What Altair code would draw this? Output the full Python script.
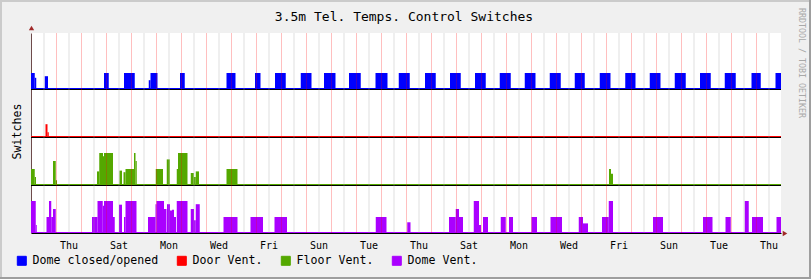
import altair as alt
import pandas as pd

# ---------------------------------------------------------------- data
SERIES = ["Dome closed/opened", "Door Vent.", "Floor Vent.", "Dome Vent."]
COLORS = ["#0000FF", "#FF0000", "#54A800", "#AA00FF"]
BASELINE = [9, 6, 3, 0]          # band offset (switch units) of each series

# x axis: days since start of the 30-day window
TICK_POS = [1.5, 3.5, 5.5, 7.5, 9.5, 11.5, 13.5, 15.5, 17.5, 19.5, 21.5, 23.5, 25.5, 27.5, 29.5]
TICK_LABELS = ["Thu", "Sat", "Mon", "Wed", "Fri", "Sun", "Tue", "Thu",
               "Sat", "Mon", "Wed", "Fri", "Sun", "Tue", "Thu"]
MAJOR_GRID = [1, 2, 3, 4, 5, 6, 7, 8, 9, 10, 11, 12, 13, 14, 15, 16, 17, 18, 19,
              20, 21, 22, 23, 24, 25, 26, 27, 28, 29]
MINOR_GRID = [0.5, 1.5, 2.5, 3.5, 4.5, 5.5, 6.5, 7.5, 8.5, 9.5, 10.5, 11.5, 12.5,
              13.5, 14.5, 15.5, 16.5, 17.5, 18.5, 19.5, 20.5, 21.5, 22.5, 23.5,
              24.5, 25.5, 26.5, 27.5, 28.5, 29.5]

# switch states: start day, end day, level
dome_start = [0.00, 0.15, 0.55, 2.92, 3.72, 4.71, 4.78, 5.96, 7.82, 8.96, 9.76, 10.79,
              11.72, 12.72, 13.78, 14.71, 15.76, 16.76, 17.76, 18.75, 19.75, 20.75,
              21.75, 22.75, 23.77, 24.75, 25.75, 26.76, 27.75, 28.82, 29.78]
dome_end = [0.15, 0.21, 0.68, 3.11, 4.15, 4.78, 5.06, 6.15, 8.18, 9.18, 10.19, 11.22,
            12.18, 13.19, 14.26, 15.15, 16.19, 17.19, 18.19, 19.19, 20.18, 21.19,
            22.15, 23.18, 24.18, 25.18, 26.19, 27.19, 28.19, 29.19, 30.00]
dome_level = [1, 0.7, 0.8, 1, 1, 0.55, 1, 1, 1, 1, 1, 1,
              1, 1, 1, 1, 1, 1, 1, 1, 1, 1,
              1, 1, 1, 1, 1, 1, 1, 1, 1]

door_start = [0.58, 0.66]
door_end = [0.66, 0.71]
door_level = [0.8, 0.3]

floor_start = [0.00, 0.15, 0.88, 0.99, 2.64, 2.73, 2.88, 2.92, 3.54, 3.70, 3.78, 4.12,
               4.18, 4.99, 5.43, 5.83, 5.88, 6.39, 6.51, 6.59, 7.82, 23.12, 23.20]
floor_end = [0.15, 0.20, 0.99, 1.04, 2.73, 2.88, 2.92, 3.28, 3.64, 3.78, 4.12, 4.18,
             4.23, 5.28, 5.55, 5.88, 6.26, 6.51, 6.59, 6.72, 8.26, 23.20, 23.28]
floor_level = [1, 0.5, 1.5, 0.3, 0.85, 2, 1.8, 2, 0.9, 0.8, 1, 2,
               1.5, 1, 1.6, 1, 2, 0.75, 0.5, 0.85, 1, 1, 0.7]

vent_start = [0.00, 0.19, 0.62, 0.72, 0.81, 0.88, 2.44, 2.66, 2.87, 2.92, 3.28, 3.52,
              3.72, 3.78, 4.68, 4.98, 5.02, 5.32, 5.44, 5.56, 5.64, 5.72, 5.83, 6.39,
              6.52, 6.59, 7.70, 8.78, 9.74, 13.79, 15.05, 16.72, 16.99, 17.12, 17.71,
              17.92, 18.08, 18.79, 19.12, 20.02, 20.78, 21.91, 22.08, 22.84, 23.11,
              24.88, 26.88, 27.78, 28.55, 28.84, 29.82]
vent_end = [0.19, 0.23, 0.72, 0.81, 0.88, 0.99, 2.66, 2.87, 2.92, 3.28, 3.35, 3.64,
            3.78, 4.22, 4.98, 5.02, 5.32, 5.42, 5.56, 5.64, 5.72, 5.80, 6.26, 6.52,
            6.59, 6.75, 8.26, 9.28, 10.24, 14.22, 15.18, 16.99, 17.12, 17.28, 17.92,
            18.00, 18.28, 18.99, 19.28, 20.24, 21.24, 22.08, 22.28, 23.11, 23.28,
            25.28, 27.26, 27.99, 28.71, 29.28, 30.00]
vent_level = [2, 0.5, 1, 2, 1, 1.5, 1, 2, 1.7, 2, 1, 1.77,
              1, 2, 1, 1.8, 2, 1.5, 1.8, 1.4, 1.45, 1, 2, 1.5,
              0.8, 1.8, 1, 1, 1, 1, 0.67, 1, 1.5, 1, 2,
              0.5, 1, 1, 1, 1, 1, 1, 0.6, 1, 2,
              1, 1, 1, 2, 1, 1]

TITLE = "3.5m Tel. Temps. Control Switches"
Y_TITLE = "Switches"
WATERMARK = "RRDTOOL / TOBI OETIKER"

# ---------------------------------------------------------------- tables
rows = []
for name, base, s, e, lv in [
    (SERIES[0], BASELINE[0], dome_start, dome_end, dome_level),
    (SERIES[1], BASELINE[1], door_start, door_end, door_level),
    (SERIES[2], BASELINE[2], floor_start, floor_end, floor_level),
    (SERIES[3], BASELINE[3], vent_start, vent_end, vent_level),
]:
    for a, b, v in zip(s, e, lv):
        rows.append({"series": name, "start": a, "end": b, "base": base, "top": base + v})
df = pd.DataFrame(rows)

PX = 1 / 16.0   # one pixel in switch units
base_df = pd.DataFrame({"series": SERIES, "line": [b + PX for b in BASELINE]})
hrule_df = pd.DataFrame({"y": [b for b in BASELINE if b > 0]})
major_df = pd.DataFrame({"x": MAJOR_GRID})
minor_df = pd.DataFrame({"x": MINOR_GRID})
one = pd.DataFrame({"k": [0]})

FONT = "DejaVu Sans Mono"
W, H = 750, 200
label_js = "[" + ",".join("'%s'" % t for t in TICK_LABELS) + "]"

xscale = alt.Scale(domain=[0, 30], nice=False, zero=False)
yscale = alt.Scale(domain=[0, 12.5], nice=False, zero=False)
color = alt.Color(
    "series:N",
    scale=alt.Scale(domain=SERIES, range=COLORS),
    legend=alt.Legend(
        orient="none", legendX=-15, legendY=222, direction="horizontal",
        title=None, symbolType="square", symbolSize=81,
        symbolStrokeColor="black", symbolStrokeWidth=1, symbolOpacity=1,
        labelFont=FONT, labelFontSize=11.6, labelColor="black",
        columnPadding=16, labelOffset=5, gridAlign="none", padding=0,
    ),
)

bars = alt.Chart(df).mark_rect(strokeWidth=0).encode(
    x=alt.X("start:Q", scale=xscale,
            axis=alt.Axis(values=TICK_POS, labelExpr=label_js + "[round((datum.value-1.5)/2)]",
                          ticks=False, grid=False, domainColor="black", domainWidth=1,
                          labelFont=FONT, labelFontSize=10, labelColor="black",
                          labelPadding=7, labelFlush=False, labelOverlap=False, title=None)),
    x2="end:Q",
    y=alt.Y("base:Q", scale=yscale,
            axis=alt.Axis(labels=False, ticks=False, grid=False, domainColor="#6E4B4B",
                          title=Y_TITLE, titleFont=FONT, titleFontSize=11.6,
                          titleFontWeight="normal", titleColor="black", titleAngle=270,
                          titleX=-14, titleY=98, titleAlign="center", titleBaseline="middle")),
    y2="top:Q",
    color=color,
)

base_lines = alt.Chart(base_df).mark_rule(strokeWidth=1, yOffset=0.5).encode(
    x=alt.value(0), x2=alt.value(W),
    y=alt.Y("line:Q", scale=yscale),
    color=alt.Color("series:N", scale=alt.Scale(domain=SERIES, range=COLORS), legend=None),
)

black_lines = alt.Chart(hrule_df).mark_rule(color="black", strokeWidth=1, yOffset=0.5).encode(
    x=alt.value(0), x2=alt.value(W), y=alt.Y("y:Q", scale=yscale),
)

minor = alt.Chart(minor_df).mark_rule(color="#A0A0A0", opacity=0.35, strokeWidth=1,
                                      xOffset=0.5).encode(
    x=alt.X("x:Q", scale=xscale), y=alt.value(0), y2=alt.value(H),
)
major = alt.Chart(major_df).mark_rule(color="#FF0000", opacity=0.25, strokeWidth=1,
                                      xOffset=0.5).encode(
    x=alt.X("x:Q", scale=xscale), y=alt.value(0), y2=alt.value(H),
)

arrow_up = alt.Chart(one).mark_point(shape="triangle-up", filled=True, size=28,
                                     color="#A02828", opacity=1).encode(
    x=alt.value(0.5), y=alt.value(-5))
arrow_right = alt.Chart(one).mark_point(shape="triangle-right", filled=True, size=28,
                                        color="#A02828", opacity=1).encode(
    x=alt.value(W + 4), y=alt.value(H + 0.5))

title = alt.Chart(one).mark_text(
    text=TITLE, font=FONT, fontSize=13, color="black", align="center",
    baseline="alphabetic").encode(x=alt.value(373), y=alt.value(-12.3))

watermark = alt.Chart(one).mark_text(
    text=WATERMARK, angle=90, font=FONT, fontSize=8.3,
    color="#A8A8A8", align="center", baseline="middle").encode(
    x=alt.value(770), y=alt.value(30))

frame = [
    alt.Chart(one).mark_rule(color="#CBCBCB", strokeWidth=2).encode(
        x=alt.value(-30), x2=alt.value(-30), y=alt.value(-33), y2=alt.value(246)),
    alt.Chart(one).mark_rule(color="#CBCBCB", strokeWidth=2).encode(
        x=alt.value(-31), x2=alt.value(780), y=alt.value(-32), y2=alt.value(-32)),
    alt.Chart(one).mark_rule(color="#9E9E9E", strokeWidth=2).encode(
        x=alt.value(779), x2=alt.value(779), y=alt.value(-33), y2=alt.value(246)),
    alt.Chart(one).mark_rule(color="#9E9E9E", strokeWidth=2).encode(
        x=alt.value(-31), x2=alt.value(780), y=alt.value(245), y2=alt.value(245)),
]

chart = alt.layer(
    bars, base_lines, black_lines, minor, major, arrow_up, arrow_right, title,
    watermark, *frame
).properties(
    width=W, height=H,
    padding={"left": 31, "top": 33, "right": 30, "bottom": 46},
    autosize=alt.AutoSizeParams(type="none"),
).configure(background="#F0F0F0").configure_view(fill="white", strokeWidth=0)

chart.save("out.html", embed_options={"renderer": "svg", "actions": False})
